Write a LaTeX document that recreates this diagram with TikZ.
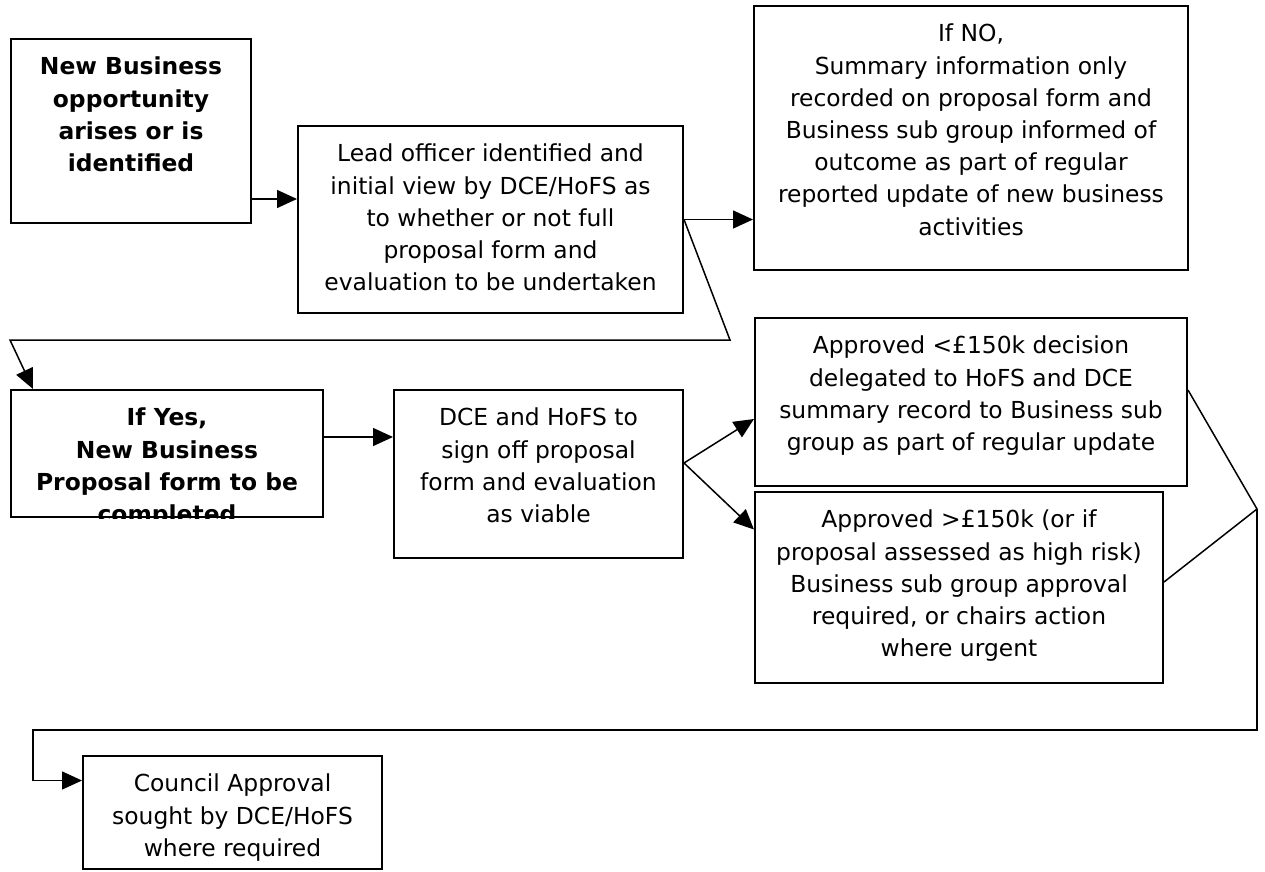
\documentclass[tikz,border=0pt]{standalone}
\usepackage{fontspec}
\setmainfont{DejaVu Sans}
\usetikzlibrary{arrows.meta,positioning}

\newcommand{\boxlines}[3]{\parbox[c][#2][t]{#1}{\centering\vspace*{6.7pt}\strut #3\par}}

\tikzset{
  flowbox/.style={draw, line width=1pt, anchor=north west, inner sep=0pt,
    font=\fontsize{11.7}{16.1}\selectfont},
  arr/.style={-{Triangle[length=10pt,width=9pt]}, line width=0.75pt},
  link/.style={line width=0.75pt},
}

\begin{document}
\begin{tikzpicture}[x=0.5pt,y=-0.5pt]
  \useasboundingbox (0,0) rectangle (1265,872);

  \node[flowbox] (newbiz) at (10,38)
    {\boxlines{120pt}{92pt}{\bfseries New Business\\opportunity\\arises or is\\identified}};
  \node[flowbox] (lead) at (297,125)
    {\boxlines{192.5pt}{93.5pt}{Lead officer identified and\\initial view by DCE/HoFS as\\to whether or not full\\proposal form and\\evaluation to be undertaken}};
  \node[flowbox] (ifno) at (753,5)
    {\boxlines{217pt}{132pt}{If NO,\\Summary information only\\recorded on proposal form and\\Business sub group informed of\\outcome as part of regular\\reported update of new business\\activities}};

  \node[flowbox, minimum width=156pt, minimum height=63.5pt] (ifyes) at (10,389) {};
  \begin{scope}
    \clip (ifyes.north west) rectangle (ifyes.south east);
    \node[flowbox, draw=none, anchor=north] (ifyestext) at (ifyes.north)
      {\boxlines{156pt}{80pt}{\bfseries If Yes,\\New Business\\Proposal form to be\\completed}};
  \end{scope}
  \node[flowbox] (dce) at (393,389)
    {\boxlines{144.5pt}{84pt}{DCE and HoFS to\\sign off proposal\\form and evaluation\\as viable}};
  \node[flowbox] (under) at (754,317)
    {\boxlines{216pt}{84pt}{Approved <£150k decision\\delegated to HoFS and DCE\\summary record to Business sub\\group as part of regular update}};
  \node[flowbox] (over) at (754,491)
    {\boxlines{204pt}{95.5pt}{Approved >£150k (or if\\proposal assessed as high risk)\\Business sub group approval\\required, or chairs action\\where urgent}};
  \node[flowbox] (council) at (82,755)
    {\boxlines{149.5pt}{56.5pt}{Council Approval\\sought by DCE/HoFS\\where required}};

  \coordinate (bendA) at (730,340);
  \coordinate (bendB) at (10,340);
  \coordinate (join) at (1257,509);
  \coordinate (bendC) at (1257,730);
  \coordinate (bendD) at (33,730);

  \draw[arr] ([yshift=12.5pt]newbiz.south east) coordinate (outA) -- (outA -| lead.west);
  \draw[arr] (lead.east) -- (lead.east -| ifno.west);
  \draw[arr] (lead.east) -- (bendA) -- (bendB) -- ([xshift=11.5pt]ifyes.north west);
  \draw[arr] ([yshift=-24pt]ifyes.north east) coordinate (outB) -- (outB -| dce.west);
  \draw[arr] ([yshift=5.5pt]dce.east) coordinate (fork) -- ([yshift=-8.5pt]under.west);
  \draw[arr] (fork) -- ([yshift=29pt]over.west);
  \draw[link] ([yshift=6pt]under.east) -- (join) -- ([yshift=2.75pt]over.east);
  \draw[arr] (join) -- (bendC) -- (bendD) |- ([yshift=16pt]council.west);
\end{tikzpicture}
\end{document}
